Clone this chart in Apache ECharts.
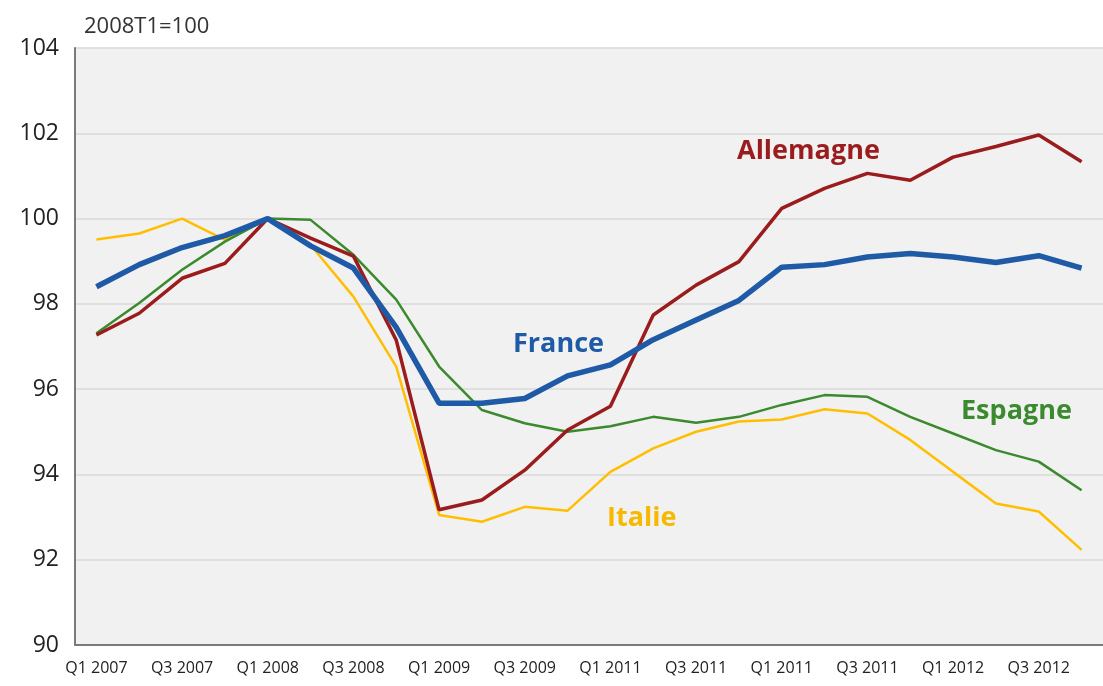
<!DOCTYPE html>
<html>
<head>
<meta charset="utf-8">
<title>2008T1=100</title>
<script src="https://cdn.jsdelivr.net/npm/echarts@6/dist/echarts.min.js"></script>
<style>
html, body { margin: 0; padding: 0; background: #fff; }
#indiceChart { width: 1103px; height: 686px; }
</style>
</head>
<body>
<div id="indiceChart"></div>
<script>
/* 季度 (les 24 trimestres, un libellé sur deux est affiché) */
var quarters = ['Q1 2007', 'Q2 2007', 'Q3 2007', 'Q4 2007',
    'Q1 2008', 'Q2 2008', 'Q3 2008', 'Q4 2008',
    'Q1 2009', 'Q2 2009', 'Q3 2009', 'Q4 2009',
    'Q1 2011', 'Q2 2010', 'Q3 2011', 'Q4 2010',
    'Q1 2011', 'Q2 2011', 'Q3 2011', 'Q4 2011',
    'Q1 2012', 'Q2 2012', 'Q3 2012', 'Q4 2012'];

/* séries, base 2008T1 = 100 */
var france = [98.4, 98.92, 99.32, 99.6, 100, 99.36, 98.84, 97.45, 95.67, 95.67, 95.78, 96.31,
    96.57, 97.16, 97.62, 98.08, 98.86, 98.92, 99.1, 99.18, 99.1, 98.97, 99.13, 98.84];
var allemagne = [97.27, 97.78, 98.6, 98.95, 100, 99.54, 99.12, 97.15, 93.17, 93.4, 94.1, 95.04,
    95.6, 97.74, 98.44, 98.99, 100.24, 100.71, 101.06, 100.9, 101.44, 101.69, 101.96, 101.33];
var espagne = [97.31, 98.02, 98.8, 99.46, 100, 99.97, 99.15, 98.1, 96.53, 95.51, 95.2, 95.0,
    95.13, 95.35, 95.21, 95.35, 95.63, 95.86, 95.82, 95.35, 94.96, 94.57, 94.3, 93.63];
var italie = [99.51, 99.65, 100.0, 99.5, 100, 99.38, 98.17, 96.53, 93.05, 92.89, 93.24, 93.15,
    94.06, 94.61, 95.0, 95.24, 95.29, 95.53, 95.43, 94.81, 94.06, 93.32, 93.13, 92.23];

/* axe des ordonnées */
var yMin = 90;
var yMax = 104;
var yStep = 2;

/**
 * @desc 页面初始化
 */
window.onload = function () {
    doIndiceChart();
};

/**
 * 绘制指数折线图
 */
function doIndiceChart() {
    var indiceChart = echarts.init(document.getElementById('indiceChart'));
    var font = '"Open Sans", "DejaVu Sans", sans-serif';

    var option = {
        backgroundColor: '#ffffff',
        animation: false,
        title: {
            text: '2008T1=100',
            left: 79,
            top: 11,
            textStyle: {
                fontFamily: font,
                fontSize: 22,
                fontWeight: 'normal',
                color: '#333'
            }
        },
        tooltip: {
            trigger: 'axis'
        },
        grid: {
            left: 75,     //距离左边的距离
            right: -8,    //超出右边
            top: 48,
            bottom: 41,
            show: true,
            backgroundColor: '#f1f1f1',
            borderWidth: 0
        },
        xAxis: [
            {
                type: 'category',
                data: quarters,
                boundaryGap: true,
                axisLine: { lineStyle: { color: '#7a7a7a', width: 2 } },
                axisTick: {
                    interval: 1,
                    length: 5,
                    lineStyle: { color: '#7a7a7a', width: 1.5 }
                },
                axisLabel: {
                    interval: 1,
                    margin: 15,
                    fontFamily: font,
                    fontSize: 16,
                    color: '#222'
                },
                splitLine: { show: false }
            }
        ],
        yAxis: [
            {
                type: 'value',
                min: yMin,
                max: yMax,
                interval: yStep,
                axisLine: { show: true, lineStyle: { color: '#7a7a7a', width: 2 } },
                axisTick: { show: false },
                axisLabel: {
                    margin: 16,
                    fontFamily: font,
                    fontSize: 23,
                    color: '#222'
                },
                splitLine: { lineStyle: { color: '#d9d9d9', width: 1.5 } }
            }
        ],
        graphic: [
            {
                type: 'text', left: 737, top: 138,
                style: { text: 'Allemagne', fill: '#9b1c1c', font: 'bold 27px ' + font }
            },
            {
                type: 'text', left: 513, top: 331,
                style: { text: 'France', fill: '#1f5aa6', font: 'bold 27px ' + font }
            },
            {
                type: 'text', left: 961, top: 398,
                style: { text: 'Espagne', fill: '#3b8a2e', font: 'bold 27px ' + font }
            },
            {
                type: 'text', left: 607, top: 505,
                style: { text: 'Italie', fill: '#f7b900', font: 'bold 27px ' + font }
            }
        ],
        series: [
            {
                name: 'Italie',
                type: 'line',
                data: italie,
                symbol: 'none',
                z: 2,
                lineStyle: { color: '#ffbf00', width: 2.5 },
                itemStyle: { color: '#ffbf00' }
            },
            {
                name: 'Espagne',
                type: 'line',
                data: espagne,
                symbol: 'none',
                z: 3,
                lineStyle: { color: '#3b8a2e', width: 2.5 },
                itemStyle: { color: '#3b8a2e' }
            },
            {
                name: 'Allemagne',
                type: 'line',
                data: allemagne,
                symbol: 'none',
                z: 4,
                lineStyle: { color: '#9b1c1c', width: 3.5 },
                itemStyle: { color: '#9b1c1c' }
            },
            {
                name: 'France',
                type: 'line',
                data: france,
                symbol: 'none',
                z: 5,
                lineStyle: { color: '#1f5aa6', width: 5.5 },
                itemStyle: { color: '#1f5aa6' }
            }
        ]
    };
    indiceChart.setOption(option, true);
}
</script>
</body>
</html>
